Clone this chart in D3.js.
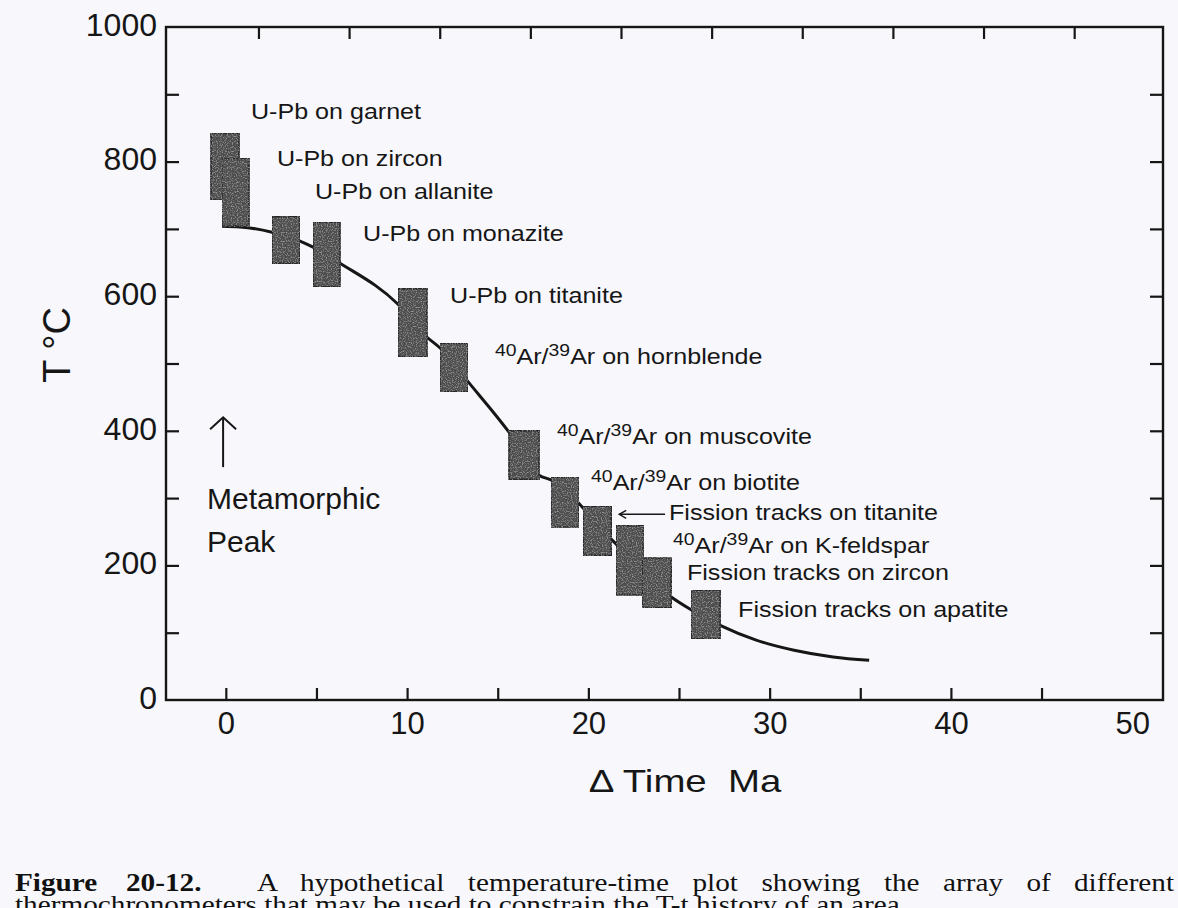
<!DOCTYPE html>
<html><head><meta charset="utf-8">
<script src="https://cdn.jsdelivr.net/npm/d3@7"></script>
<style>
html,body{margin:0;padding:0;background:#f8f8fc;}
svg{display:block;}
</style></head><body>
<svg id="chart" width="1178" height="908"></svg>
<script>
// ---------------- data ----------------
const methods = [
  "U-Pb on garnet", "U-Pb on zircon", "U-Pb on allanite", "U-Pb on monazite",
  "U-Pb on titanite", "^40^Ar/^39^Ar on hornblende", "^40^Ar/^39^Ar on muscovite",
  "^40^Ar/^39^Ar on biotite", "Fission tracks on titanite", "^40^Ar/^39^Ar on K-feldspar",
  "Fission tracks on zircon", "Fission tracks on apatite"
];
const timeLo = [-0.82, -0.21, 2.55, 4.81, 9.50, 11.82, 15.62, 17.94, 19.71, 21.53, 22.97, 25.67];
const timeHi = [ 0.73,  1.28, 4.09, 6.30, 11.10, 13.36, 17.28, 19.48, 21.26, 23.02, 24.57, 27.27];
const tempLo = [743, 704, 649, 614, 510, 458, 328, 257, 215, 156, 137, 91];
const tempHi = [842, 805, 718, 710, 611, 530, 400, 331, 288, 259, 211, 163];

// label anchors (time, temperature)
const labelTime = [1.39, 2.82, 4.92, 7.57, 12.37, 14.85, 18.27, 20.15, 24.45, 24.67, 25.44, 28.26];
const labelTemp = [863, 793, 744, 682, 590, 499, 380, 312, 267, 218, 178, 123];

// cooling path
const pathTime = [-0.21, 0.78, 2.55, 4.09, 4.81, 6.30, 9.50, 11.10, 11.82, 13.36, 15.62, 17.28, 17.94, 21.30, 24.57, 25.67, 27.27, 29.26, 31.35, 33.50, 35.49];
const pathTemp = [704, 703, 695, 682, 673, 649, 588, 539, 523, 473, 398, 334, 327, 238, 153, 134, 111, 89, 74, 64, 59];

// axes
const xTickValues = [0, 5, 10, 15, 20, 25, 30, 35, 40, 45];
const xLabelValues = [0, 10, 20, 30, 40, 50];
const topTickValues = [1.8, 6.8, 11.8, 16.8, 21.8, 26.8, 31.8, 36.8, 41.8, 46.8];
const yTickValues = [100, 200, 300, 400, 500, 600, 700, 800, 900];
const yLabelValues = [0, 200, 400, 600, 800, 1000];

const caption1Bold = ["Figure", "20-12."];
const caption1Rest = "A hypothetical temperature-time plot showing the array of";
const caption1Last = "different";
const caption2 = "thermochronometers that may be used to constrain the T-t history of an area.";

// ---------------- drawing ----------------
const svg = d3.select("#chart");
const x = d3.scaleLinear().domain([-3.3, 51.7]).range([166, 1163]);
const y = d3.scaleLinear().domain([0, 1000]).range([700, 27]);
const ink = "#161616";
const sans = "'Liberation Sans', Arial, Helvetica, sans-serif";

// cooling curve (under boxes)
const line = d3.line().x(d => x(d[0])).y(d => y(d[1])).curve(d3.curveMonotoneX);
svg.append("path")
  .datum(pathTime.map((t, i) => [t, pathTemp[i]]))
  .attr("d", line).attr("fill", "none").attr("stroke", ink).attr("stroke-width", 3);

// boxes
const defs = svg.append("defs");
const f = defs.append("filter").attr("id", "speckle").attr("x", 0).attr("y", 0).attr("width", 1).attr("height", 1);
f.append("feTurbulence").attr("type", "fractalNoise").attr("baseFrequency", 0.8).attr("numOctaves", 1).attr("seed", 3).attr("result", "noise");
f.append("feColorMatrix").attr("in", "noise").attr("type", "matrix")
  .attr("values", "0 0 0 0 0.5  0 0 0 0 0.5  0 0 0 0 0.5  0 0 0 2.0 -0.98").attr("result", "dots");
f.append("feComposite").attr("in", "dots").attr("in2", "SourceGraphic").attr("operator", "in").attr("result", "d2");
const fm = f.append("feMerge");
fm.append("feMergeNode").attr("in", "SourceGraphic");
fm.append("feMergeNode").attr("in", "d2");

svg.append("g").selectAll("rect").data(methods).join("rect")
  .attr("x", (d, i) => x(timeLo[i]))
  .attr("width", (d, i) => x(timeHi[i]) - x(timeLo[i]))
  .attr("y", (d, i) => y(tempHi[i]))
  .attr("height", (d, i) => y(tempLo[i]) - y(tempHi[i]))
  .attr("fill", "#4e4e4e").attr("stroke", "#262626").attr("stroke-width", 1.6)
  .attr("filter", "url(#speckle)");

// frame + ticks
const [x0, x1] = x.range(), [yb, yt] = y.range();
const gb = svg.append("g").attr("transform", `translate(0,${yb})`)
  .call(d3.axisBottom(x).tickValues(xTickValues).tickSize(-12).tickFormat(""));
const gt = svg.append("g").attr("transform", `translate(0,${yt})`)
  .call(d3.axisTop(x).tickValues(topTickValues).tickSize(-12).tickFormat(""));
const gl = svg.append("g").attr("transform", `translate(${x0},0)`)
  .call(d3.axisLeft(y).tickValues(yTickValues).tickSize(-13).tickFormat(""));
const gr = svg.append("g").attr("transform", `translate(${x1},0)`)
  .call(d3.axisRight(y).tickValues(yTickValues).tickSize(-13).tickFormat(""));
[gb, gt, gl, gr].forEach(g => {
  g.select(".domain").remove();
  g.selectAll(".tick line").attr("stroke", ink).attr("stroke-width", 2.2);
});
svg.append("rect").attr("x", x0).attr("y", yt).attr("width", x1 - x0).attr("height", yb - yt)
  .attr("fill", "none").attr("stroke", ink).attr("stroke-width", 2.4);

// tick labels
const xl = svg.append("g").attr("transform", `translate(0,${yb})`)
  .call(d3.axisBottom(x).tickValues(xLabelValues).tickSize(0).tickPadding(12).tickFormat(d3.format("d")));
xl.select(".domain").remove();
xl.selectAll("text").attr("font-family", sans).attr("font-size", 31).attr("fill", ink);
const yl = svg.append("g").attr("transform", `translate(${x0},0)`)
  .call(d3.axisLeft(y).tickValues(yLabelValues).tickSize(0).tickPadding(9).tickFormat(d3.format("d")));
yl.select(".domain").remove();
yl.selectAll("text").attr("font-family", sans).attr("font-size", 32).attr("fill", ink).attr("dy", "0.26em");

// axis titles
svg.append("text").attr("transform", "translate(70,345) rotate(-90)")
  .attr("text-anchor", "middle").attr("font-family", sans).attr("font-size", 38).attr("fill", ink)
  .text("T \u00B0C");
svg.append("text").attr("transform", `translate(${(x(0) + x(50)) / 2 + 6},792) scale(1.2,1)`)
  .attr("text-anchor", "middle").attr("font-family", sans).attr("font-size", 32).attr("fill", ink)
  .attr("xml:space", "preserve").text("\u0394 Time  Ma");

// method labels
const labels = svg.append("g").attr("font-family", sans).attr("fill", ink);
methods.forEach((m, i) => {
  const t = labels.append("text")
    .attr("transform", `translate(${x(labelTime[i])},${y(labelTemp[i])}) scale(1.14,1)`)
    .attr("font-size", 22);
  const parts = m.split(/\^(\d+)\^/);
  let raised = false;
  parts.forEach((p, k) => {
    if (p === "") return;
    if (k % 2 === 1) {
      t.append("tspan").attr("font-size", 17).attr("dy", raised ? 0 : -8).text(p);
      raised = true;
    } else {
      t.append("tspan").attr("dy", raised ? 8 : 0).text(p);
      raised = false;
    }
  });
});

// arrow to "Fission tracks on titanite"
const ai = methods.indexOf("Fission tracks on titanite");
const ay = y(labelTemp[ai]) - 6;
const axStart = x(labelTime[ai]) - 4, axEnd = x(timeHi[ai]) + 8;
svg.append("line").attr("x1", axStart).attr("x2", axEnd).attr("y1", ay).attr("y2", ay)
  .attr("stroke", ink).attr("stroke-width", 1.4);
svg.append("path").attr("d", `M${axEnd + 7},${ay - 4} L${axEnd},${ay} L${axEnd + 7},${ay + 4}`)
  .attr("fill", "none").attr("stroke", ink).attr("stroke-width", 1.4);

// metamorphic peak
const peakT = 0 - 0.15;
const px = x(peakT), pTop = y(420), pBot = y(346);
svg.append("line").attr("x1", px).attr("x2", px).attr("y1", pTop).attr("y2", pBot)
  .attr("stroke", ink).attr("stroke-width", 2);
svg.append("path").attr("d", `M${px - 13},${pTop + 12} L${px},${pTop} L${px + 13},${pTop + 12}`)
  .attr("fill", "none").attr("stroke", ink).attr("stroke-width", 2);
svg.append("text").attr("x", x(-1.04)).attr("y", y(284)).attr("font-family", sans).attr("font-size", 30)
  .attr("fill", ink).text("Metamorphic");
svg.append("text").attr("x", x(-1.04)).attr("y", y(220)).attr("font-family", sans).attr("font-size", 30)
  .attr("fill", ink).text("Peak");

// caption (horizontally stretched like the scanned page)
const serif = "'Liberation Serif', 'Times New Roman', serif";
const sx = 1.17;
const c1 = svg.append("text").attr("transform", `translate(0,891) scale(${sx},1)`)
  .attr("font-family", serif).attr("font-size", 25).attr("fill", "#111");
c1.append("tspan").attr("x", 15 / sx).attr("font-weight", "bold").text(caption1Bold[0]);
c1.append("tspan").attr("x", 126 / sx).attr("font-weight", "bold").text(caption1Bold[1]);
const rest = c1.append("tspan").attr("x", 257 / sx).text(caption1Rest);
const natural = rest.node().getComputedTextLength();
const nSpaces = caption1Rest.split(" ").length - 1;
const ws = ((1074 - 257) / sx - natural - 6) / (nSpaces + 1);
rest.style("word-spacing", ws + "px");
c1.append("tspan").attr("x", 1074 / sx).text(caption1Last);
svg.append("text").attr("transform", `translate(15,913) scale(${sx},1)`)
  .attr("font-family", serif).attr("font-size", 25).attr("fill", "#111").text(caption2);
</script>
</body></html>
